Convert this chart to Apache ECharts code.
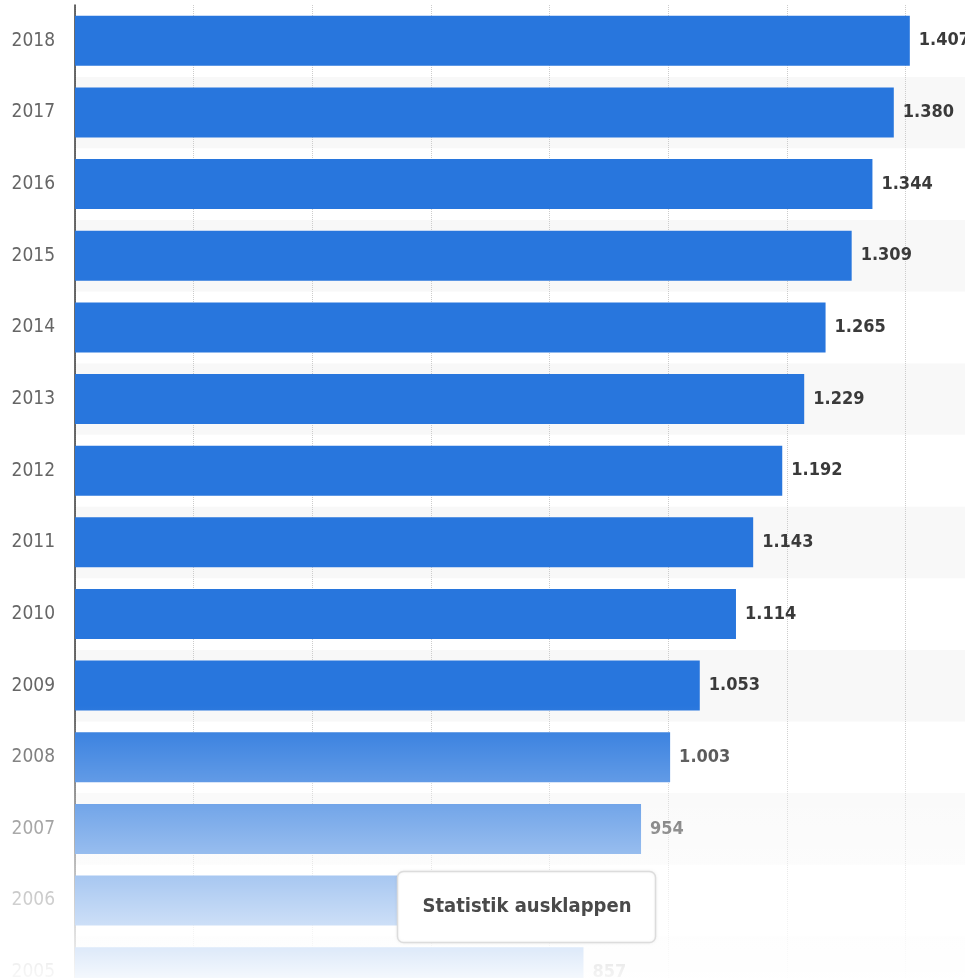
<!DOCTYPE html>
<html>
<head>
<meta charset="utf-8">
<title>Entwicklung 2005–2018</title>
<script src="https://cdn.jsdelivr.net/npm/echarts@6/dist/echarts.min.js"></script>
<style>
  html, body { margin: 0; padding: 0; background: #fff; overflow: hidden; }
  #chart { width: 965px; height: 1010px; }
</style>
</head>
<body>
<div id="chart"></div>
<script>
// Jahre (unten nach oben) und Werte
const years = ['2005', '2006', '2007', '2008', '2009', '2010', '2011', '2012', '2013', '2014', '2015', '2016', '2017', '2018'];
const values = [857, 905, 954, 1003, 1053, 1114, 1143, 1192, 1229, 1265, 1309, 1344, 1380, 1407];
const xTicks = [0, 200, 400, 600, 800, 1000, 1200, 1400];
const buttonText = 'Statistik ausklappen';

const FONT = "'DejaVu Sans Condensed', 'Liberation Sans Narrow', 'Roboto', sans-serif";

// Tausendertrennzeichen nach deutscher Schreibweise
function formatDe(v) {
  return String(v).replace(/\B(?=(\d{3})+(?!\d))/g, '.');
}

const chart = echarts.init(document.getElementById('chart'), null, { renderer: 'canvas' });

chart.setOption({
  animation: false,
  backgroundColor: '#ffffff',
  grid: { left: 75, top: 5, width: 893, height: 1003, containLabel: false },
  xAxis: {
    type: 'value',
    min: xTicks[0],
    max: 1500,
    interval: xTicks[1] - xTicks[0],
    axisLine: { show: false },
    axisTick: { show: false },
    axisLabel: { show: false },
    splitLine: { show: true, lineStyle: { color: '#cccccc', type: 'dotted', width: 1 } }
  },
  yAxis: {
    type: 'category',
    data: years,
    axisLine: { show: true, lineStyle: { color: '#3a3a3a', width: 1.5 } },
    axisTick: { show: false },
    axisLabel: { color: '#666666', fontSize: 19, fontFamily: FONT, margin: 20 },
    splitArea: { show: true, areaStyle: { color: ['#f8f8f8', '#ffffff'] } }
  },
  series: [{
    type: 'bar',
    data: values,
    barWidth: 50,
    itemStyle: { color: '#2876dd' },
    label: {
      show: true,
      position: 'right',
      distance: 9,
      color: '#3a3a3a',
      fontSize: 18,
      fontWeight: 'bold',
      fontFamily: FONT,
      formatter: p => formatDe(p.value)
    }
  }],
  graphic: [
    {
      // Ausblendung nach unten
      type: 'rect',
      z: 100,
      silent: true,
      shape: { x: 0, y: 705, width: 965, height: 273 },
      style: {
        fill: new echarts.graphic.LinearGradient(0, 0, 0, 1, [
          { offset: 0, color: 'rgba(255,255,255,0)' },
          { offset: 1, color: 'rgba(255,255,255,0.95)' }
        ])
      }
    },
    {
      type: 'rect',
      z: 100,
      silent: true,
      shape: { x: 0, y: 978, width: 965, height: 40 },
      style: { fill: 'rgba(255,255,255,0.95)' }
    },
    {
      type: 'group',
      z: 110,
      children: [
        {
          type: 'rect',
          z: 110,
          shape: { x: 397.5, y: 871.5, width: 258, height: 71, r: 6 },
          style: {
            fill: '#ffffff',
            stroke: '#dcdcdc',
            lineWidth: 1.5,
            shadowBlur: 3,
            shadowColor: 'rgba(0,0,0,0.06)'
          }
        },
        {
          type: 'text',
          z: 111,
          x: 527,
          y: 907,
          style: {
            text: buttonText,
            fill: '#4a4a4a',
            font: 'bold 20px ' + FONT,
            align: 'center',
            verticalAlign: 'middle'
          }
        }
      ]
    }
  ]
});
</script>
</body>
</html>
